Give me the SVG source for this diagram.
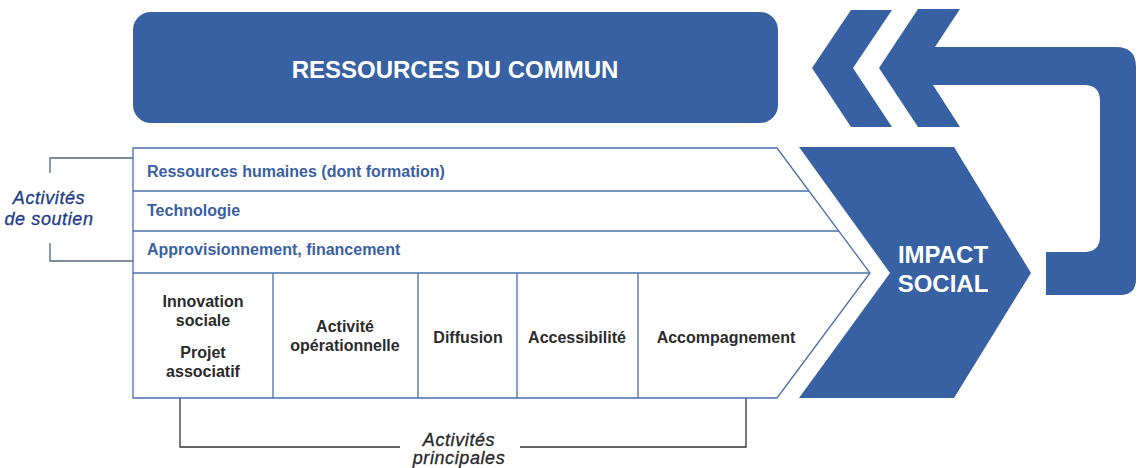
<svg xmlns="http://www.w3.org/2000/svg" width="1140" height="468" viewBox="0 0 1140 468">
<style>
.blue{fill:#3761a3}
.outline{fill:#ffffff;stroke:#4a6fae;stroke-width:1.3}
.sep{stroke:#4a6fae;stroke-width:1.3;fill:none}
.row{font-family:"Liberation Sans",Arial,sans-serif;font-weight:bold;font-size:16px;fill:#3a5fa3}
.cell{font-family:"Liberation Sans",Arial,sans-serif;font-weight:bold;font-size:16px;fill:#2b2b2b;text-anchor:middle}
.white{font-family:"Liberation Sans",Arial,sans-serif;font-weight:bold;fill:#ffffff;text-anchor:middle}
.ital{font-family:"Liberation Sans",Arial,sans-serif;font-style:italic;font-size:18px;stroke-width:0.35;text-anchor:middle;letter-spacing:0.6px}
.navy{fill:#243f86;stroke:#243f86}
.dark{fill:#2b2b2b;stroke:#2b2b2b}
.brk{fill:none;stroke-width:1.3}
</style>
<rect width="1140" height="468" fill="#ffffff"/>

<g id="ressources-du-commun">
<rect x="133" y="12" width="645" height="111" rx="18" class="blue"/>
<text x="455" y="78" class="white" font-size="24">RESSOURCES DU COMMUN</text>
</g>

<g id="connectors">
<polygon class="blue" points="851,10 892,10 853,68 892,127 851,127 812,68"/>
<path class="blue" d="M918,9 L960,9 L935,47 L1116,47 Q1136,47 1136,67 L1136,279 Q1136,295 1120,295 L1046,295 L1046,252 L1084,252 Q1100,252 1100,236 L1100,101 Q1100,85 1084,85 L933,85 L960,127 L918,127 L879,68 Z"/>
<path class="brk" stroke="#52677a" d="M50,173 L50,158 L133,158 M50,243 L50,261 L133,261"/>
<path class="brk" stroke="#333333" d="M180,398 L180,447 L400,447 M520,447 L746,447 L746,398"/>
</g>

<g id="chaine-de-valeur">
<polygon class="outline" points="133,148 777,148 870,273 777,398 133,398"/>
<line class="sep" x1="133" y1="191" x2="809" y2="191"/>
<line class="sep" x1="133" y1="231" x2="839" y2="231"/>
<line class="sep" x1="133" y1="273" x2="870" y2="273"/>
<line class="sep" x1="273" y1="273" x2="273" y2="398"/>
<line class="sep" x1="418" y1="273" x2="418" y2="398"/>
<line class="sep" x1="517" y1="273" x2="517" y2="398"/>
<line class="sep" x1="638" y1="273" x2="638" y2="398"/>
</g>

<g id="rh"><text x="147" y="177" class="row">Ressources humaines (dont formation)</text></g>
<g id="technologie"><text x="147" y="216" class="row">Technologie</text></g>
<g id="approvisionnement"><text x="147" y="255" class="row">Approvisionnement, financement</text></g>

<g id="innovation">
<text x="203" y="307" class="cell">Innovation</text>
<text x="203" y="326" class="cell">sociale</text>
<text x="203" y="358" class="cell">Projet</text>
<text x="203" y="377" class="cell">associatif</text>
</g>
<g id="activite">
<text x="345" y="332" class="cell">Activité</text>
<text x="345" y="351" class="cell">opérationnelle</text>
</g>
<g id="diffusion"><text x="468" y="343" class="cell">Diffusion</text></g>
<g id="accessibilite"><text x="577" y="343" class="cell">Accessibilité</text></g>
<g id="accompagnement"><text x="726" y="343" class="cell">Accompagnement</text></g>

<g id="impact-social">
<polygon class="blue" points="799,147 954,147 1031,273 954,398 799,398 890,273"/>
<text x="943" y="263" class="white" font-size="24">IMPACT</text>
<text x="943" y="292" class="white" font-size="24">SOCIAL</text>
</g>

<g id="activites-soutien">
<text x="49" y="204" class="ital navy">Activités</text>
<text x="49" y="225" class="ital navy">de soutien</text>
</g>
<g id="activites-principales">
<text x="459" y="446" class="ital dark">Activités</text>
<text x="459" y="464" class="ital dark">principales</text>
</g>
</svg>
